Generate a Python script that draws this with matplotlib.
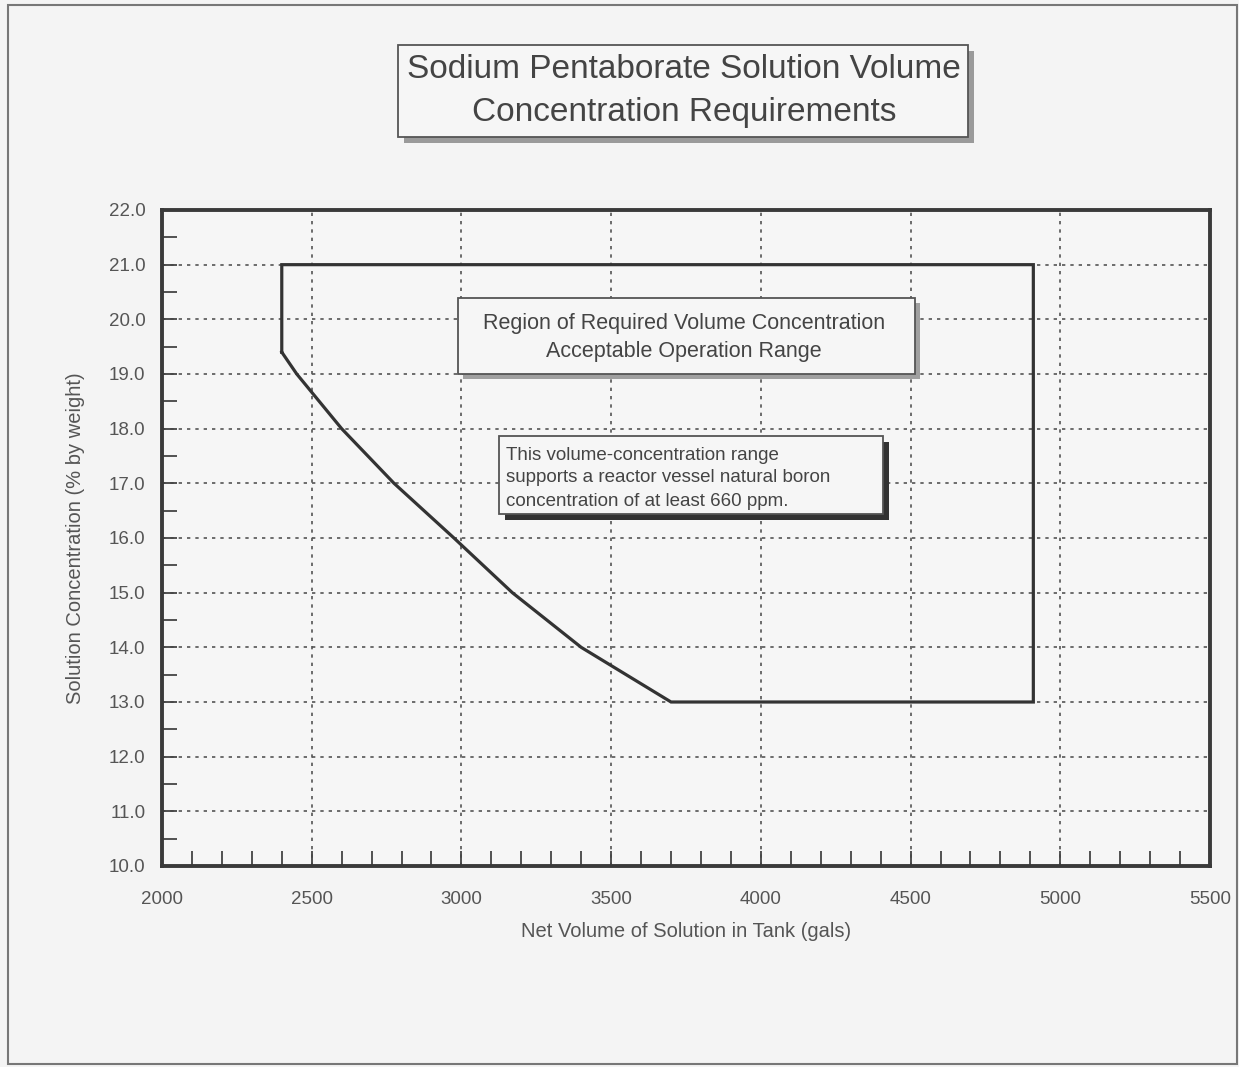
import matplotlib.pyplot as plt
from matplotlib.patches import Rectangle
from matplotlib.ticker import MultipleLocator, FormatStrFormatter

# boundary of the acceptable region (volume in gals, concentration in % by weight)
volume = [2400, 2400, 4910, 4910, 3700, 3400, 3170, 2975, 2775, 2600, 2450, 2400]
concentration = [19.4, 21.0, 21.0, 13.0, 13.0, 14.0, 15.0, 16.0, 17.0, 18.0, 19.0, 19.4]

titre = ['Sodium Pentaborate Solution Volume', 'Concentration Requirements']
texte_region = ['Region of Required Volume Concentration', 'Acceptable Operation Range']
texte_note = ['This volume-concentration range',
              'supports a reactor vessel natural boron',
              'concentration of at least 660 ppm.']

W, H = 1239, 1067
plt.rcParams['font.family'] = ['Liberation Sans', 'DejaVu Sans']
fig = plt.figure(figsize=(W / 100, H / 100), dpi=100, facecolor='#f4f4f4')


def fx(px):
    return px / W


def fy(py):
    return 1 - py / H


def boite(x0, y0, x1, y1, dx, dy, ombre):
    # ombre puis cadre, en pixels de la figure
    fig.patches.append(Rectangle((fx(x0 + dx), fy(y1 + dy)), fx(x1 - x0), (y1 - y0) / H,
                                 transform=fig.transFigure, facecolor=ombre, edgecolor='none', zorder=5))
    fig.patches.append(Rectangle((fx(x0), fy(y1)), fx(x1 - x0), (y1 - y0) / H,
                                 transform=fig.transFigure, facecolor='#f6f6f6', edgecolor='#555555',
                                 linewidth=1.3, zorder=6))


# cadre de la figure
fig.patches.append(Rectangle((fx(8), fy(1064)), fx(1229), 1059 / H, transform=fig.transFigure,
                             facecolor='none', edgecolor='#777777', linewidth=1.5))

ax = fig.add_axes([fx(162), fy(866), fx(1210 - 162), (866 - 210) / H])
ax.set_facecolor('#f6f6f6')
ax.set_xlim(2000, 5500)
ax.set_ylim(10, 22)
ax.xaxis.set_major_locator(MultipleLocator(500))
ax.xaxis.set_minor_locator(MultipleLocator(100))
ax.yaxis.set_major_locator(MultipleLocator(1))
ax.yaxis.set_minor_locator(MultipleLocator(0.5))
ax.yaxis.set_major_formatter(FormatStrFormatter('%.1f'))
ax.tick_params(which='both', direction='in', length=11, width=1.3, color='#444444',
               labelsize=13.5, labelcolor='#555555')
ax.tick_params(axis='x', pad=18)
ax.tick_params(axis='y', pad=12)
for s in ax.spines.values():
    s.set_linewidth(2.8)
    s.set_color('#3a3a3a')
ax.grid(True, which='major', color='#555555', linewidth=1.2, linestyle=(0, (2, 3)))
ax.set_axisbelow(True)

ax.plot(volume, concentration, color='#333333', linewidth=2.3, solid_joinstyle='miter')

ax.set_xlabel('Net Volume of Solution in Tank (gals)', fontsize=14.5, color='#555555', labelpad=10)
ax.set_ylabel('Solution Concentration (% by weight)', fontsize=14.5, color='#555555', labelpad=17)

# titre encadré
boite(398, 45, 968, 137, 6, 6, '#9a9a9a')
fig.text(fx(684), fy(69), titre[0], ha='center', va='center', fontsize=24, color='#444444', zorder=7)
fig.text(fx(684), fy(113), titre[1], ha='center', va='center', fontsize=24, color='#444444', zorder=7)

# boîte de la région
boite(458, 298, 915, 374, 5, 5, '#a0a0a0')
fig.text(fx(684), fy(323), texte_region[0], ha='center', va='center', fontsize=15.5, color='#444444', zorder=7)
fig.text(fx(684), fy(352), texte_region[1], ha='center', va='center', fontsize=15.5, color='#444444', zorder=7)

# note
boite(499, 436, 883, 514, 6, 6, '#333333')
for i, ligne in enumerate(texte_note):
    fig.text(fx(506), fy(455 + 23 * i), ligne, ha='left', va='center', fontsize=13.5,
             color='#444444', zorder=7)

fig.savefig('out.png', dpi=100, facecolor=fig.get_facecolor())
